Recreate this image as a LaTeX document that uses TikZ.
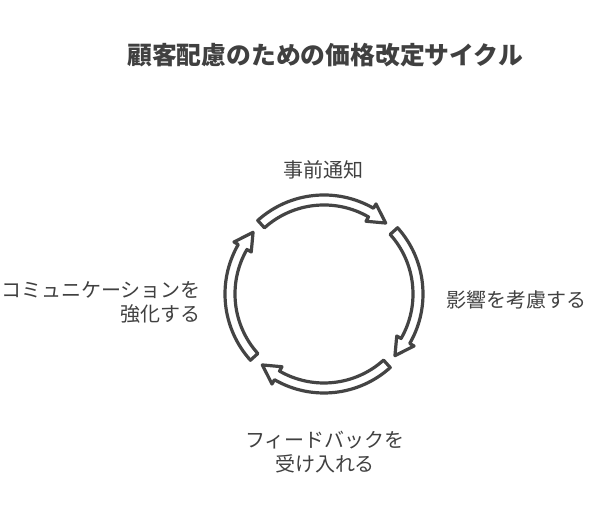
\documentclass[tikz,border=0pt]{standalone}
\usepackage{fontspec}
\newfontfamily\cjk{Noto Sans CJK JP}
\definecolor{ink}{HTML}{404040}
\definecolor{ring}{HTML}{444444}

\begin{document}
\begin{tikzpicture}[x=0.75pt,y=0.75pt,
                    label/.style={font=\cjk\fontsize{15}{18}\selectfont,text=ink,inner sep=0pt},
                    loop arrow/.style={draw=ring,line width=2.4pt,fill=white,line join=round}]
  \useasboundingbox (0,0) rectangle (612,516);

  \node[font=\cjk\bfseries\fontsize{18.6}{22}\selectfont,text=ink] (T) at (325,461)
        {顧客配慮のための価格改定サイクル};

  % hollow arrows round the cycle, clockwise
  \begin{scope}[shift={(324,222)}]
    \foreach \s in {132,42,-48,-138}{
      \pgfmathsetmacro{\e}{\s-83}
      \pgfmathsetmacro{\h}{\s-72}
      \draw[loop arrow] (\s:99) arc[start angle=\s,end angle=\h,radius=99]
        -- (\h:104) -- (\e:94) -- (\h:84) -- (\h:89)
        arc[start angle=\h,end angle=\s,radius=89] -- cycle;
    }
  \end{scope}

  \node[label]              (A) at (323,346) {事前通知};
  \node[label,anchor=west]  (B) at (446,216) {影響を考慮する};
  \node[label,align=center] (C) at (325,64)  {フィードバックを\\受け入れる};
  \node[label,align=right,anchor=east] (D) at (201,214) {コミュニケーションを\\強化する};
\end{tikzpicture}
\end{document}
